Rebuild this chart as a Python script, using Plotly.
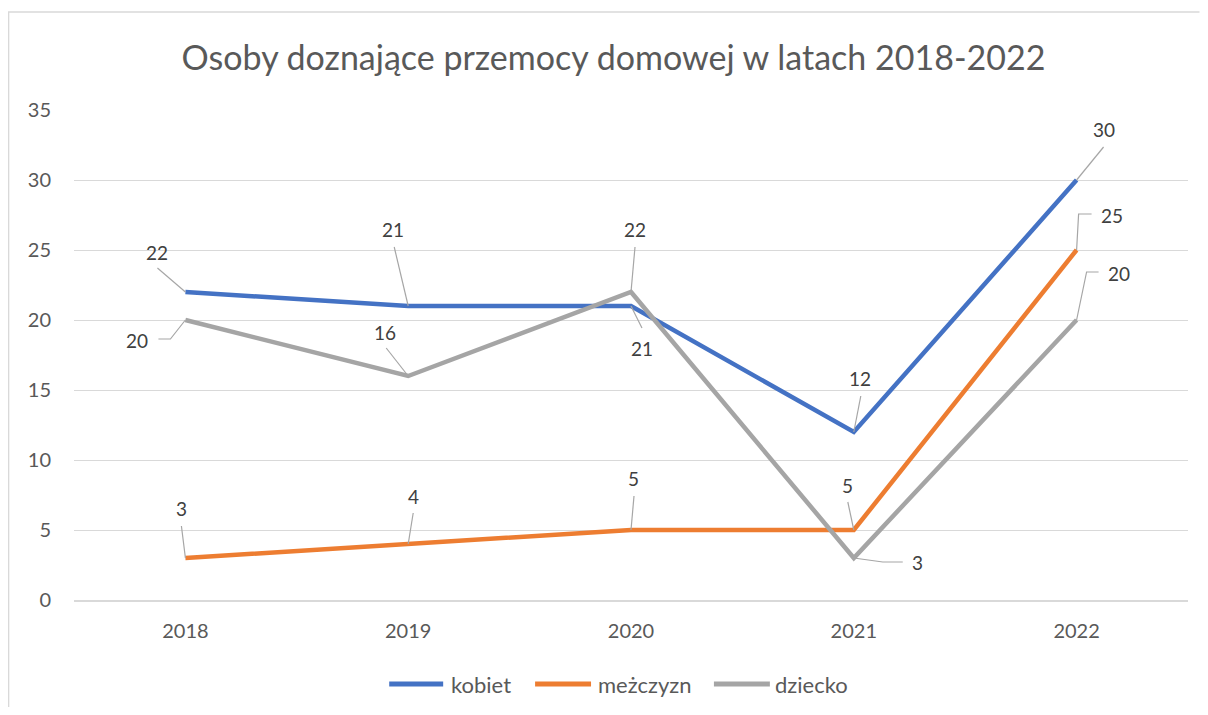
import plotly.graph_objects as go

# ---- data ----
years = ["2018", "2019", "2020", "2021", "2022"]
kobiet = [22, 21, 21, 12, 30]
mezczyzn = [3, 4, 5, 5, 25]
dziecko = [20, 16, 22, 3, 20]
y_ticks = [0, 5, 10, 15, 20, 25, 30, 35]

# ---- layout constants (page body has an 8px margin on each side) ----
W, H = 1192, 699
ML, MR, MT, MB = 65.5, 11.5, 102, 107
PLOT_W = W - ML - MR
PLOT_H = H - MT - MB
X_RANGE = [-0.5, 4.5]
Y_RANGE = [0, 35]
PX_X = PLOT_W / (X_RANGE[1] - X_RANGE[0])   # pixels per category step
PX_Y = PLOT_H / (Y_RANGE[1] - Y_RANGE[0])   # pixels per unit

series = [
    ("kobiet", kobiet, "#4472C4"),
    ("meżczyzn", mezczyzn, "#ED7D31"),
    ("dziecko", dziecko, "#A5A5A5"),
]
# text offset (dx, dy) and leader polyline points, screen pixels relative to point (y down)
label_layout = {
    "kobiet": [
        ((-28, -40), [(-28, -24)]),
        ((-15, -77), [(-14, -59)]),
        ((11, 42), [(11, 22)]),
        ((6, -54), [(7, -36)]),
        ((27, -51), [(27, -33)]),
    ],
    "meżczyzn": [
        ((-4, -50), [(-4, -32)]),
        ((5, -48), [(5, -31)]),
        ((2, -52), [(3, -34)]),
        ((-6, -45), [(-6, -28)]),
        ((35, -35), [(2, -36), (15, -36)]),
    ],
    "dziecko": [
        ((-48, 20), [(-15, 19), (-27, 19)]),
        ((-23, -44), [(-22, -28)]),
        ((4, -63), [(4, -45)]),
        ((64, 4), [(29, 4), (49, 4)]),
        ((42, -47), [(10, -48), (22, -48)]),
    ],
}
# legend entries: line start, line end, text start (pixels from plot left), row offset below plot
legend_px = [(315.5, 369.5, 375.5), (461.5, 517.5, 522.5), (640.5, 696.5, 699.5)]
LEGEND_DY = 84
TITLE_CX = 605.5   # title centre, pixels from figure left

FONT = "Lato, 'Open Sans', sans-serif"
TEXT = "#595959"
LABEL = "#404040"
GRID = "#D9D9D9"
LEADER = "#A6A6A6"

xs = list(range(len(years)))

fig = go.Figure()
for name, vals, color in series:
    fig.add_trace(go.Scatter(
        x=xs, y=vals, name=name, mode="lines", showlegend=False,
        line=dict(color=color, width=4.5),
        hovertemplate="%{y}<extra>" + name + "</extra>",
    ))

# leader lines (one trace, segments separated by None)
lx, ly = [], []
for name, vals, color in series:
    for i, v in enumerate(vals):
        _, pts = label_layout[name][i]
        lx.append(xs[i]); ly.append(v)
        for px, py in pts:
            lx.append(xs[i] + px / PX_X)
            ly.append(v - py / PX_Y)
        lx.append(None); ly.append(None)
fig.add_trace(go.Scatter(
    x=lx, y=ly, mode="lines", showlegend=False, hoverinfo="skip",
    line=dict(color=LEADER, width=1.2),
))

annotations = []
for name, vals, color in series:
    for i, v in enumerate(vals):
        (tdx, tdy), _ = label_layout[name][i]
        annotations.append(dict(
            x=xs[i], y=v, xref="x", yref="y", text=str(v), showarrow=False,
            xshift=tdx, yshift=-tdy, font=dict(family=FONT, size=19, color=LABEL),
        ))

# outer chart frame: only the left and top edges fall inside the picture
fx0 = -ML / PLOT_W
fx1 = (W - ML) / PLOT_W
fy0 = -MB / PLOT_H
fy1 = (PLOT_H + MT - 4) / PLOT_H
shapes = [dict(
    type="path", xref="paper", yref="paper",
    path=f"M {fx0} {fy0} L {fx0} {fy1} L {fx1} {fy1}",
    line=dict(color="#D9D9D9", width=1.5), layer="below",
)]

# custom legend
ly_paper = -LEGEND_DY / PLOT_H
for (name, _, color), (a, b, t) in zip(series, legend_px):
    shapes.append(dict(
        type="line", xref="paper", yref="paper",
        x0=a / PLOT_W, x1=b / PLOT_W, y0=ly_paper, y1=ly_paper,
        line=dict(color=color, width=5),
    ))
    annotations.append(dict(
        x=t / PLOT_W, y=ly_paper, xref="paper", yref="paper", text=name,
        showarrow=False, xanchor="left", yanchor="middle",
        font=dict(family=FONT, size=22, color=TEXT),
    ))

fig.update_layout(
    width=W, height=H, autosize=False,
    margin=dict(l=ML, r=MR, t=MT, b=MB),
    paper_bgcolor="white", plot_bgcolor="white",
    title=dict(
        text="Osoby doznające przemocy domowej w latach 2018-2022",
        x=TITLE_CX / W, xanchor="center", y=1 - 50 / H, yanchor="middle",
        font=dict(family=FONT, size=34, color=TEXT),
    ),
    font=dict(family=FONT, color=TEXT),
    showlegend=False,
    annotations=annotations,
    shapes=shapes,
)
fig.update_xaxes(
    range=X_RANGE, tickvals=xs, ticktext=years, showgrid=False, showline=True,
    linecolor=GRID, linewidth=1.5, ticks="", zeroline=False,
    tickfont=dict(family=FONT, size=20, color=TEXT), ticklabelstandoff=12,
)
fig.update_yaxes(
    range=Y_RANGE, tickvals=y_ticks, showgrid=True, gridcolor=GRID, gridwidth=1.3,
    zeroline=False, showline=False, ticks="",
    tickfont=dict(family=FONT, size=20, color=TEXT), ticklabelstandoff=22,
)

fig.write_html("out.html")
